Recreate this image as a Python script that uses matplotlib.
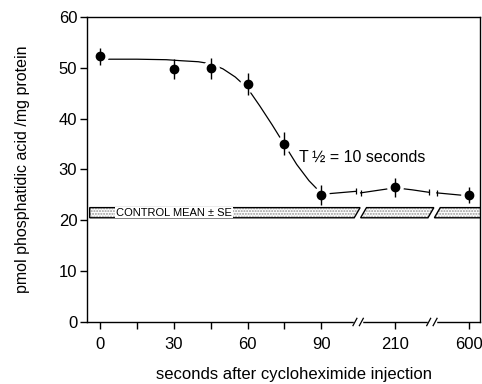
import matplotlib.pyplot as plt
from matplotlib.patches import Polygon

plt.rcParams['font.family'] = ['Liberation Sans', 'DejaVu Sans']

# Data (x given as position on the broken axis: 210 s -> 120, 600 s -> 150)
tick_pos = [0, 15, 30, 45, 60, 75, 90, 120, 150]
tick_labels = ['0', '', '30', '', '60', '', '90', '210', '600']
point_pos = [0, 30, 45, 60, 75, 90, 120, 150]
point_val = [52.3, 49.8, 49.9, 46.8, 35.1, 25.0, 26.5, 25.0]
point_err = [1.7, 2.0, 2.0, 2.2, 2.2, 2.0, 1.9, 1.6]

# fitted curve
curve_x = [3, 15, 27, 33, 40, 45, 50, 55, 60, 65, 70, 75, 80, 85, 88]
curve_y = [51.7, 51.7, 51.6, 51.4, 51.2, 50.8, 49.8, 48.2, 46.0, 42.5, 38.8, 34.9, 31.0, 27.8, 26.3]
tail1_x, tail1_y = [92, 104], [25.2, 25.7]
tail2_x, tail2_y = [106, 113, 120, 127, 134], [25.4, 25.9, 26.4, 26.0, 25.5]
tail3_x, tail3_y = [137, 148], [25.4, 24.9]

control_lo, control_hi = 20.5, 22.5
breaks = [105, 135]

fig = plt.figure(figsize=(4.82, 3.84), dpi=100)
ax = fig.add_axes([0.1805, 0.1615, 0.8155, 0.7942])

ax.plot(curve_x, curve_y, color='black', lw=0.9, zorder=2)
for tx, ty in [(tail1_x, tail1_y), (tail2_x, tail2_y), (tail3_x, tail3_y)]:
    ax.plot(tx, ty, color='black', lw=0.9, zorder=2)
ax.plot([104, 106, 134, 137], [25.7, 25.4, 25.5, 25.4], ls='none', marker='|',
        ms=5, mew=0.9, color='black', zorder=2)

# white ring around points to break the curve
ax.plot(point_pos, point_val, ls='none', marker='o', ms=7, mfc='white',
        mec='white', mew=5, zorder=3)
ax.errorbar(point_pos, point_val, yerr=point_err, fmt='none', ecolor='black',
            elinewidth=1.0, capsize=0, zorder=4)
ax.plot(point_pos, point_val, ls='none', marker='o', ms=6, color='black', zorder=5)

# control band with slanted breaks
sk = 2.4
segs = [(-4.2, breaks[0] - 1.6), (breaks[0] + 1.0, breaks[1] - 1.6), (breaks[1] + 1.0, 158)]
for i, (x0, x1) in enumerate(segs):
    left_b, left_t = (x0, x0) if i == 0 else (x0, x0 + sk)
    verts = [(left_b, control_lo), (x1, control_lo), (x1 + sk, control_hi), (left_t, control_hi)]
    ax.add_patch(Polygon(verts, closed=True, fill=False, hatch='......', edgecolor='0.6',
                         lw=0, zorder=1))
    ax.add_patch(Polygon(verts, closed=True, fill=False, edgecolor='black', lw=1.0, zorder=1.5))
ax.text(6.5, (control_lo + control_hi) / 2, 'CONTROL MEAN \u00b1 SE', fontsize=8,
        ha='left', va='center', zorder=2,
        bbox=dict(facecolor='white', edgecolor='none', pad=0.6))

ax.text(81, 32.3, 'T\u2009\u00bd = 10 seconds', fontsize=11.5, ha='left', va='center')

ax.set_xlim(-5.3, 154.6)
ax.set_ylim(0, 60)
ax.set_xticks(tick_pos)
ax.set_xticklabels(tick_labels)
ax.set_yticks(range(0, 61, 10))
ax.tick_params(direction='out', length=5, width=1, labelsize=12)
ax.tick_params(axis='x', pad=6)
ax.tick_params(axis='y', pad=2)
for s in ax.spines.values():
    s.set_linewidth(1.0)

# axis breaks on the bottom spine
tr = ax.get_xaxis_transform()
for b in breaks:
    ax.plot([b - 1.3, b + 1.3], [0, 0], transform=tr, color='white', lw=2.5,
            clip_on=False, zorder=6)
    for dx in (-1.3, 1.3):
        ax.plot([b + dx - 0.8, b + dx + 0.8], [-0.012, 0.012], transform=tr,
                color='black', lw=0.9, clip_on=False, zorder=7)

fig.text(23 / 482, 0.5585, 'pmol phosphatidic acid /mg protein', fontsize=11.5,
         rotation=90, ha='center', va='center')
fig.text(294 / 482, 2 / 384, 'seconds after cycloheximide injection', fontsize=12,
         ha='center', va='bottom')

fig.savefig('out.png', dpi=100)
